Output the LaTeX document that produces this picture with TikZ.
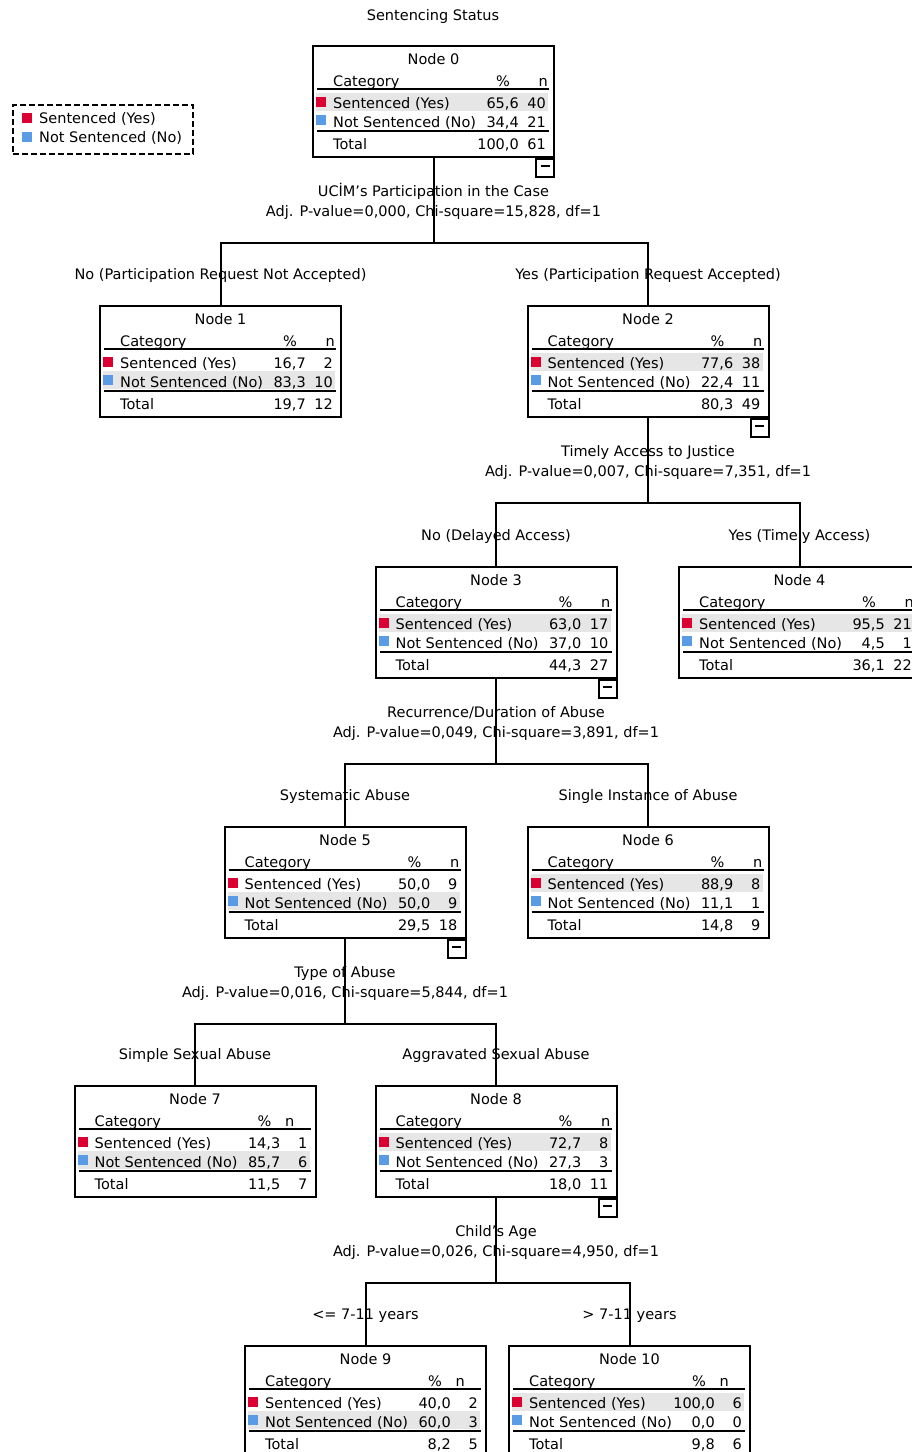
\documentclass[tikz,border=0pt]{standalone}
\usepackage{fontspec}
\setmainfont{DejaVu Sans}
\usetikzlibrary{calc,positioning}
\usepackage{xcolor}
\definecolor{sentred}{RGB}{220,0,50}
\definecolor{notblue}{RGB}{90,155,230}
\definecolor{rowgray}{RGB}{230,230,230}
\pgfdeclarelayer{background}
\pgfsetlayers{background,main}

% box, title and header lines of one tree node
\newcommand{\ctnode}[4][236]{%
  \node[ctbox] (n#2) at (#3,#4) {};
  \node[anchor=base] (n#2-title) at ($(n#2.north)+(0,19)$) {Node #2};
  \node[anchor=base west] (n#2-cat) at ($(n#2.north west)+(21,41)$) {Category};
  \node[anchor=base] (n#2-pct) at ($(n#2.north west)+(191,41)$) {\%};
  \node[anchor=base east] (n#2-n) at ($(n#2.north west)+(#1,41)$) {n};
  \draw[rule] ($(n#2.north west)+(5,44)$) -- ++(232,0);
  \draw[rule] ($(n#2.north west)+(5,86)$) -- ++(232,0);
}
% category rows: #2/#3 yes, #4/#5 no, #6/#7 total, #8 grey row
\newcommand{\ctrows}[8]{%
  \begin{pgfonlayer}{background}
    \fill[rowgray] ($(n#1.north west)+(4,30+18*#8)$) rectangle ++(232,18);
  \end{pgfonlayer}
  \fill[sentred] ($(n#1.north west)+(4,52)$) rectangle ++(10,10);
  \fill[notblue] ($(n#1.north west)+(4,70)$) rectangle ++(10,10);
  \node[anchor=base west] (n#1-yes) at ($(n#1.north west)+(21,63)$) {Sentenced (Yes)};
  \node[anchor=base east] (n#1-yesp) at ($(n#1.north west)+(207,63)$) {#2};
  \node[anchor=base east] (n#1-yesn) at ($(n#1.north west)+(234,63)$) {#3};
  \node[anchor=base west] (n#1-no) at ($(n#1.north west)+(21,82)$) {Not Sentenced (No)};
  \node[anchor=base east] (n#1-nop) at ($(n#1.north west)+(207,82)$) {#4};
  \node[anchor=base east] (n#1-non) at ($(n#1.north west)+(234,82)$) {#5};
  \node[anchor=base west] (n#1-tot) at ($(n#1.north west)+(21,104)$) {Total};
  \node[anchor=base east] (n#1-totp) at ($(n#1.north west)+(207,104)$) {#6};
  \node[anchor=base east] (n#1-totn) at ($(n#1.north west)+(234,104)$) {#7};
}
% split below a parent: #1 parent, #2/#3 children, #4/#5 variable lines, #6/#7 branch labels
\newcommand{\ctsplit}[7]{%
  \node[minusbox, anchor=north east] (c#1) at (n#1.south east) {};
  \draw[rule] ($(c#1.center)+(-4.5,-2)$) -- ++(9,0);
  \coordinate (s#1) at ($(n#1.south)+(0,85)$);
  \draw[edge] (n#1.south) -- (s#1) (n#2.north) |- (s#1) -| (n#3.north);
  \node[anchor=base] (v#1a) at ($(n#1.south)+(0,38)$) {#4};
  \node[anchor=base] (v#1b) at ($(n#1.south)+(0,58)$) {#5};
  \node[anchor=base] (b#2) at ($(n#2.north)+(0,-26)$) {#6};
  \node[anchor=base] (b#3) at ($(n#3.north)+(0,-26)$) {#7};
}

\begin{document}
\begin{tikzpicture}[x=1pt,y=-1pt,every node/.style={inner sep=0pt,font=\fontsize{14.5}{17}\selectfont}]
    \tikzstyle{ctbox}=[draw,line width=2pt,anchor=north,minimum width=241pt,minimum height=111pt]
    \tikzstyle{minusbox}=[draw,line width=2pt,minimum width=18pt,minimum height=18pt]
    \tikzstyle{rule}=[line width=2pt]
    \tikzstyle{edge}=[line width=2pt]
    \begin{pgfonlayer}{background}
      \fill[white] (0,0) rectangle (912,1452);
    \end{pgfonlayer}
    \useasboundingbox (0,0) rectangle (912,1452);

    % Title and legend
    \node[anchor=base] (title) at (433,20) {Sentencing Status};
    \node[draw,line width=1.5pt,dash pattern=on 6pt off 3pt,anchor=north west,
          minimum width=180pt,minimum height=49pt] (legend) at (12,104) {};
    \fill[sentred] ($(legend.north west)+(10,9)$) rectangle ++(10,10);
    \fill[notblue] ($(legend.north west)+(10,28)$) rectangle ++(10,10);
    \node[anchor=base west] (leg1) at ($(legend.north west)+(27,19)$) {Sentenced (Yes)};
    \node[anchor=base west] (leg2) at ($(legend.north west)+(27,38)$) {Not Sentenced (No)};

    % Tree nodes
    \ctnode{0}{433.5}{45}
    \ctrows{0}{65,6}{40}{34,4}{21}{100,0}{61}{1}
    \ctnode{1}{220.5}{305}
    \ctrows{1}{16,7}{2}{83,3}{10}{19,7}{12}{2}
    \ctnode{2}{648}{305}
    \ctrows{2}{77,6}{38}{22,4}{11}{80,3}{49}{1}
    \ctnode{3}{496}{566}
    \ctrows{3}{63,0}{17}{37,0}{10}{44,3}{27}{1}
    \ctnode{4}{799.5}{566}
    \ctrows{4}{95,5}{21}{4,5}{1}{36,1}{22}{1}
    \ctnode{5}{345}{826}
    \ctrows{5}{50,0}{9}{50,0}{9}{29,5}{18}{2}
    \ctnode{6}{648}{826}
    \ctrows{6}{88,9}{8}{11,1}{1}{14,8}{9}{1}
    \ctnode[221]{7}{195}{1085}
    \ctrows{7}{14,3}{1}{85,7}{6}{11,5}{7}{2}
    \ctnode{8}{496}{1085}
    \ctrows{8}{72,7}{8}{27,3}{3}{18,0}{11}{1}
    \ctnode[221]{9}{365.5}{1345}
    \ctrows{9}{40,0}{2}{60,0}{3}{8,2}{5}{2}
    \ctnode[221]{10}{629.5}{1345}
    \ctrows{10}{100,0}{6}{0,0}{0}{9,8}{6}{1}

    % Splits
    \ctsplit{0}{1}{2}{UCİM's Participation in the Case}{Adj. P-value=0,000, Chi-square=15,828, df=1}
      {No (Participation Request Not Accepted)}{Yes (Participation Request Accepted)}
    \ctsplit{2}{3}{4}{Timely Access to Justice}{Adj. P-value=0,007, Chi-square=7,351, df=1}
      {No (Delayed Access)}{Yes (Timely Access)}
    \ctsplit{3}{5}{6}{Recurrence/Duration of Abuse}{Adj. P-value=0,049, Chi-square=3,891, df=1}
      {Systematic Abuse}{Single Instance of Abuse}
    \ctsplit{5}{7}{8}{Type of Abuse}{Adj. P-value=0,016, Chi-square=5,844, df=1}
      {Simple Sexual Abuse}{Aggravated Sexual Abuse}
    \ctsplit{8}{9}{10}{Child's Age}{Adj. P-value=0,026, Chi-square=4,950, df=1}
      {<= 7-11 years}{> 7-11 years}
\end{tikzpicture}
\end{document}
